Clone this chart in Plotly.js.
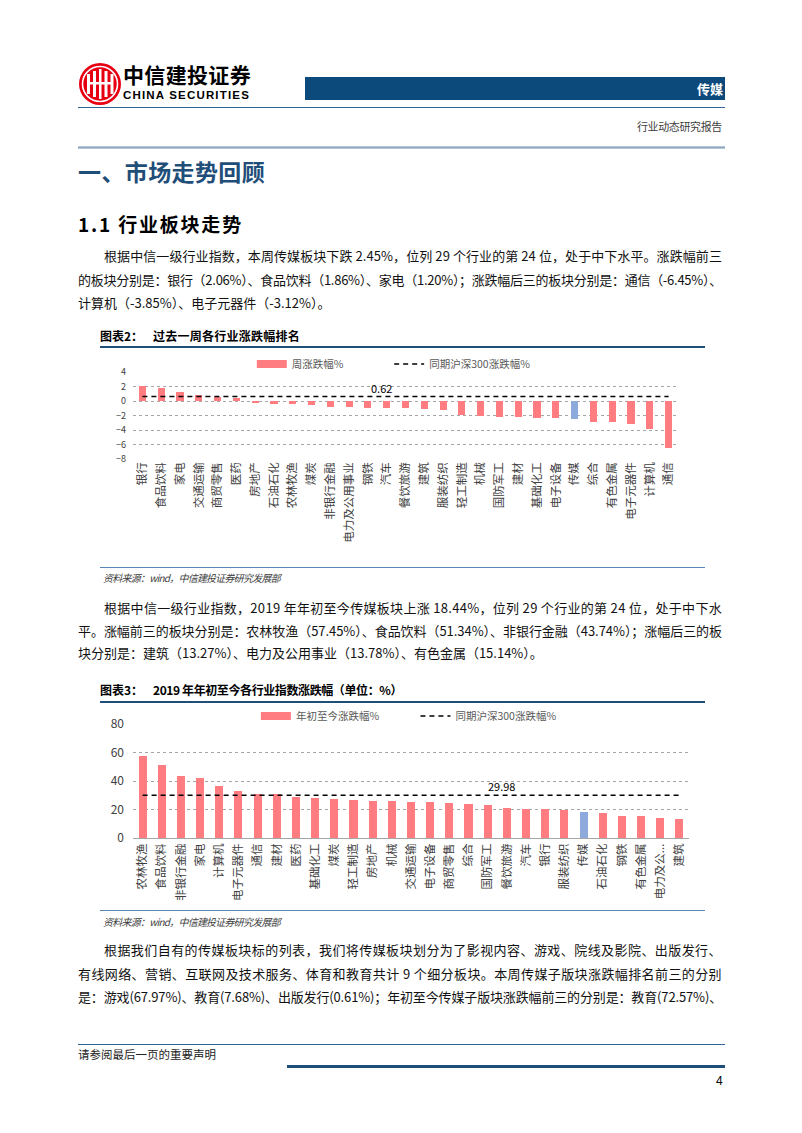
<!DOCTYPE html>
<html><head><meta charset="utf-8">
<script src="https://cdn.plot.ly/plotly-3.0.1.min.js"></script>
<style>
body{margin:0;background:#fff;}
#page{position:relative;width:802px;height:1133px;overflow:hidden;font-family:"Noto Sans CJK SC","Noto Sans",sans-serif;color:#000;background:#fff;}
.t{position:absolute;white-space:nowrap;line-height:1;}
.p{font-size:13px;color:#111;}
.rule{position:absolute;}
.src{font-size:10px;font-style:italic;color:#404040;}
.cap{font-size:12px;font-weight:bold;color:#000;}
</style></head><body>
<div id="page">
  <!-- header -->
  <svg class="rule" style="left:78px;top:62px" width="44" height="44" viewBox="0 0 44 44">
    <circle cx="22" cy="22" r="21" fill="#E60012"/>
    <circle cx="22" cy="22" r="17.5" fill="none" stroke="#fff" stroke-width="1.6"/>
    <rect x="9" y="12" width="3" height="20" fill="#fff"/>
    <rect x="15" y="9" width="3" height="26" fill="#fff"/>
    <rect x="21" y="7" width="2.5" height="30" fill="#fff"/>
    <rect x="26.5" y="9" width="3" height="26" fill="#fff"/>
    <rect x="32.5" y="12" width="3" height="20" fill="#fff"/>
    <rect x="9" y="20" width="26" height="2.5" fill="#fff"/>
  </svg>
  <div class="t" style="left:123px;top:64px;font-size:21px;height:22px;font-weight:bold;" data-w="128">中信建投证券</div>
  <div class="t" style="left:123px;top:90px;font-size:11.5px;height:12px;font-weight:bold;font-family:'Liberation Sans Narrow','Liberation Sans',sans-serif;" data-w="127">CHINA SECURITIES</div>
  <div class="rule" style="left:305px;top:77px;width:420px;height:23px;background:#0D4A7C;"></div>
  <div class="t" style="left:697px;top:82px;font-size:13px;font-weight:bold;color:#fff;">传媒</div>
  <div class="rule" style="left:78px;top:107px;width:647px;height:1px;background:#2F6496;"></div>
  <div class="t" style="left:637px;top:121px;font-size:11px;color:#404040;" data-w="85">行业动态研究报告</div>
  <div class="rule" style="left:78px;top:146px;width:647px;height:3px;background:linear-gradient(#c9d6e2,#8fa8bf,#c9d6e2);"></div>

  <div class="t" style="left:78px;top:160px;font-size:23px;font-weight:bold;color:#1F4E79;" data-w="187">一、市场走势回顾</div>
  <div class="t" style="left:78px;top:214px;font-size:19px;font-weight:bold;" data-w="165">1.1 行业板块走势</div>

  <div class="t p" style="left:104px;top:249px;" data-w="618">根据中信一级行业指数，本周传媒板块下跌 2.45%，位列 29 个行业的第 24 位，处于中下水平。涨跌幅前三</div>
  <div class="t p" style="left:78px;top:273px;" data-w="644">的板块分别是：银行（2.06%）、食品饮料（1.86%）、家电（1.20%）；涨跌幅后三的板块分别是：通信（-6.45%）、</div>
  <div class="t p" style="left:78px;top:296px;">计算机（-3.85%）、电子元器件（-3.12%）。</div>

  <div class="t cap" style="left:100px;top:330px;">图表2：</div>
  <div class="t cap" style="left:153px;top:330px;" data-w="147">过去一周各行业涨跌幅排名</div>
  <div class="rule" style="left:100px;top:346px;width:605px;height:2px;background:#1F4E79;"></div>
  <div id="c1" style="position:absolute;left:90px;top:352px;width:610px;height:210px;"></div>
  <div class="rule" style="left:100px;top:567px;width:605px;height:1px;background:#5B87B5;"></div>
  <div class="t src" style="left:103px;top:573px;" data-w="177">资料来源：wind，中信建投证券研究发展部</div>

  <div class="t p" style="left:104px;top:601px;" data-w="618">根据中信一级行业指数，2019 年年初至今传媒板块上涨 18.44%，位列 29 个行业的第 24 位，处于中下水</div>
  <div class="t p" style="left:78px;top:624px;" data-w="644">平。涨幅前三的板块分别是：农林牧渔（57.45%）、食品饮料（51.34%）、非银行金融（43.74%）；涨幅后三的板</div>
  <div class="t p" style="left:78px;top:646px;">块分别是：建筑（13.27%）、电力及公用事业（13.78%）、有色金属（15.14%）。</div>

  <div class="t cap" style="left:100px;top:684px;">图表3：</div>
  <div class="t cap" style="left:153px;top:684px;" data-w="249">2019 年年初至今各行业指数涨跌幅（单位：%）</div>
  <div class="rule" style="left:100px;top:701px;width:605px;height:2px;background:#1F4E79;"></div>
  <div id="c2" style="position:absolute;left:90px;top:705px;width:610px;height:200px;"></div>
  <div class="rule" style="left:100px;top:910px;width:605px;height:1px;background:#5B87B5;"></div>
  <div class="t src" style="left:103px;top:917px;" data-w="177">资料来源：wind，中信建投证券研究发展部</div>

  <div class="t p" style="left:104px;top:943px;" data-w="618">根据我们自有的传媒板块标的列表，我们将传媒板块划分为了影视内容、游戏、院线及影院、出版发行、</div>
  <div class="t p" style="left:78px;top:967px;" data-w="644">有线网络、营销、互联网及技术服务、体育和教育共计 9 个细分板块。本周传媒子版块涨跌幅排名前三的分别</div>
  <div class="t p" style="left:78px;top:990px;" data-w="644">是：游戏(67.97%)、教育(7.68%)、出版发行(0.61%)；年初至今传媒子版块涨跌幅前三的分别是：教育(72.57%)、</div>

  <div class="rule" style="left:78px;top:1044px;width:647px;height:1px;background:#2F6496;"></div>
  <div class="t" style="left:78px;top:1049px;font-size:11.5px;color:#222;" data-w="138">请参阅最后一页的重要声明</div>
  <div class="rule" style="left:287px;top:1065px;width:438px;height:3px;background:#1F4E79;"></div>
  <div class="t" style="left:716px;top:1075px;font-size:12px;font-family:'Liberation Sans',sans-serif;">4</div>
</div>
<script>
// ---- data: chart 2 (weekly change, %) ----
const weekCats = ['银行','食品饮料','家电','交通运输','商贸零售','医药','房地产','石油石化','农林牧渔','煤炭','非银行金融','电力及公用事业','钢铁','汽车','餐饮旅游','建筑','服装纺织','轻工制造','机械','国防军工','建材','基础化工','电子设备','传媒','综合','有色金属','电子元器件','计算机','通信'];
const weekVals = [2.06,1.86,1.20,0.78,0.62,0.45,-0.22,-0.38,-0.42,-0.62,-0.78,-0.80,-0.98,-0.98,-1.00,-1.15,-1.18,-1.95,-2.02,-2.15,-2.18,-2.28,-2.32,-2.45,-2.90,-2.95,-3.12,-3.85,-6.45];
const weekHS300 = 0.62;

// ---- data: chart 3 (YTD change, %) ----
const ytdCats = ['农林牧渔','食品饮料','非银行金融','家电','计算机','电子元器件','通信','建材','医药','基础化工','煤炭','轻工制造','房地产','机械','交通运输','电子设备','商贸零售','综合','国防军工','餐饮旅游','汽车','银行','服装纺织','传媒','石油石化','钢铁','有色金属','电力及公用事业','建筑'];
const ytdTickLabels = ['农林牧渔','食品饮料','非银行金融','家电','计算机','电子元器件','通信','建材','医药','基础化工','煤炭','轻工制造','房地产','机械','交通运输','电子设备','商贸零售','综合','国防军工','餐饮旅游','汽车','银行','服装纺织','传媒','石油石化','钢铁','有色金属','电力及公...','建筑'];
const ytdVals = [57.45,51.34,43.74,42.3,36.8,32.7,30.9,30.7,28.9,28.3,27.4,26.4,26.3,25.9,25.5,25.4,24.3,24.0,23.4,21.4,20.7,20.5,19.4,18.44,17.6,15.6,15.14,13.78,13.27];
const ytdHS300 = 29.98;

const weekLegend = ['周涨跌幅%','同期沪深300涨跌幅%'];
const ytdLegend = ['年初至今涨跌幅%','同期沪深300涨跌幅%'];
const highlight = '传媒';

const PINK = '#FF7C80', BLUE = '#8EA9DB';
const FONT = '"Noto Sans CJK SC", "Noto Sans", sans-serif';

function makeChart(id, cats, vals, hs, legendNames, opts) {
  const colors = cats.map(c => c === highlight ? BLUE : PINK);
  const traces = [
    {type:'bar', x:cats, y:vals, marker:{color:colors}, width:opts.barW, showlegend:false, hoverinfo:'skip'},
    {type:'scatter', mode:'lines', x:[null], y:[null], name:legendNames[0], line:{color:PINK, width:8}, hoverinfo:'skip', legend:'legend'},
    {type:'scatter', mode:'lines', x:cats, y:cats.map(() => hs), name:legendNames[1], line:{color:'#000', width:1.5, dash:'5px,4px'}, hoverinfo:'skip', legend:'legend2'}
  ];
  const legBase = {orientation:'h', xanchor:'left', yanchor:'middle', y:opts.legY,
                   font:{size:opts.legFont, color:'#595959'}, itemwidth:30, bgcolor:'rgba(0,0,0,0)'};
  const layout = {
    width:opts.w, height:opts.h,
    margin:{l:opts.ml, r:opts.mr, t:opts.mt, b:opts.mb, pad:0, autoexpand:false},
    paper_bgcolor:'rgba(0,0,0,0)', plot_bgcolor:'rgba(0,0,0,0)',
    font:{family:FONT, color:'#404040'},
    showlegend:true,
    legend:Object.assign({}, legBase, {x:opts.leg1X}),
    legend2:Object.assign({}, legBase, {x:opts.leg2X}),
    xaxis:{type:'category', tickangle:-90, tickfont:{size:opts.xFont, color:'#404040'}, showgrid:false, zeroline:false,
           showline:opts.xLine, linecolor:'#A6A6A6', ticks:'', automargin:false,
           tickvals: cats, ticktext: opts.tickText || cats, range:[-0.5, cats.length-0.5]},
    yaxis:{range:opts.yRange, dtick:opts.dtick, tick0:0, tickfont:{size:opts.yFont, color:'#404040'},
           showgrid:true, gridcolor:'#A6A6A6', griddash:'dot', gridwidth:1, zeroline:false, ticks:'', automargin:false,
           ticklabelstandoff:opts.yStand},
    annotations:[{x:opts.annX, y:hs, xref:'x', yref:'y', text:String(hs), showarrow:false, yanchor:'bottom',
                  yshift:-1, font:{size:opts.annFont, color:'#000'}}],
    bargap:0
  };
  return Plotly.newPlot(id, traces, layout, {staticPlot:true, displayModeBar:false});
}

makeChart('c1', weekCats, weekVals, weekHS300, weekLegend, {
  w:610, h:210, ml:43, mr:22, mt:20, mb:103, barW:0.38, leg1X:0.218, leg2X:0.47, legY:1.092, legFont:10.5,
  xFont:11.5, yFont:9, yRange:[-8,4], dtick:2, annX:12.7, annFont:11, xLine:false, yStand:6
});
makeChart('c2', ytdCats, ytdVals, ytdHS300, ytdLegend, {
  w:610, h:200, ml:43, mr:11, mt:19, mb:67, barW:0.42, leg1X:0.221, leg2X:0.508, legY:1.07, legFont:10.5,
  xFont:11.5, yFont:12, yRange:[0,80], dtick:20, annX:18.7, annFont:11, xLine:true, yStand:8,
  tickText: ytdTickLabels
});

// fit text lines to the measured widths of the reference
function fit(){
  document.querySelectorAll('[data-w]').forEach(el => {
    el.style.letterSpacing = '0px';
    const target = +el.dataset.w;
    const n = [...el.textContent].length;
    const nat = el.getBoundingClientRect().width;
    el.style.letterSpacing = ((target - nat) / n) + 'px';
  });
}
fit();
if (document.fonts && document.fonts.ready) document.fonts.ready.then(fit);
</script>
</body></html>
